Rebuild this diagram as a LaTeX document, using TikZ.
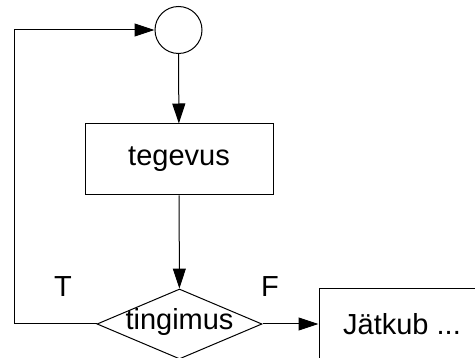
\documentclass[tikz,border=0pt]{standalone}
\usepackage{fontspec}
\setmainfont{Liberation Sans}
\usetikzlibrary{shapes.geometric,arrows.meta}
\begin{document}
\begin{tikzpicture}[x=1pt,y=-1pt,
  every node/.style={font=\fontsize{29}{32}\selectfont},
  conn/.style={line width=1pt,-{Triangle[length=20pt,width=13pt]}},
  box/.style={draw,line width=1pt,rectangle,inner sep=0pt}]
\useasboundingbox (0,0) rectangle (475,358);
\clip (0,0) rectangle (475,358);
\node[draw,line width=1pt,circle,minimum size=47pt,inner sep=0pt] (c) at (178.5,30) {};
\node[box,minimum width=188pt,minimum height=71pt] (t) at (179,159.5) {tegevus};
\node[draw,line width=1pt,diamond,aspect=2.36,inner sep=0pt,text height=18pt,text depth=6pt,minimum width=165pt,minimum height=70pt] (d) at (179.5,324) {tingimus};
\node[box,minimum width=166pt,minimum height=70pt] (j) at (402,324) {Jätkub ...};
\node (T) at (63,287) {T};
\node (F) at (270,287) {F};
\coordinate (lb) at (14,324);
\coordinate (lt) at (14,30);
\draw[conn] (c) -- (t);
\draw[conn] (t) -- (d);
\draw[conn] (d) -- (j);
\draw[conn] (d.west) -- (lb) -- (lt) -- (c.west);
\end{tikzpicture}
\end{document}
